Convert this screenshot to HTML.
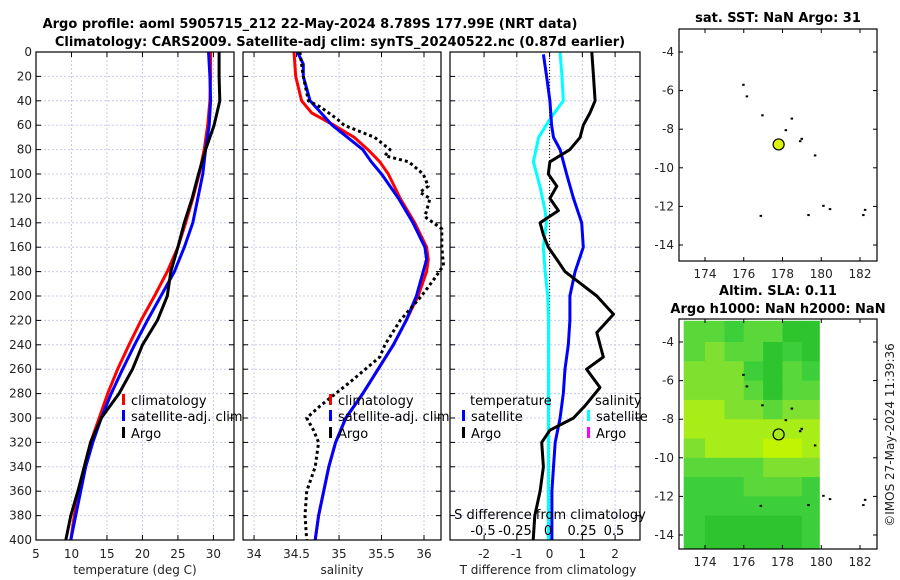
<!DOCTYPE html>
<html><head><meta charset="utf-8"><style>
body{margin:0;background:#fff;}
svg{display:block;font-family:"DejaVu Sans","Liberation Sans",sans-serif;}
.t{font-size:13px;font-weight:bold;fill:#000;}
.tk{font-size:12px;fill:#222;}
.lg{font-size:13px;fill:#000;}
</style></head><body>
<svg id="c" width="900" height="580" viewBox="0 0 900 580">
<rect width="900" height="580" fill="#fff"/>
<text class="t" x="310" y="28" text-anchor="middle">Argo profile: aoml 5905715_212 22-May-2024 8.789S 177.99E (NRT data)</text>
<text class="t" x="340" y="46" text-anchor="middle">Climatology: CARS2009. Satellite-adj clim: synTS_20240522.nc (0.87d earlier)</text>
<text class="t" x="778" y="22" text-anchor="middle">sat. SST: NaN Argo: 31</text>
<text class="t" x="778" y="295" text-anchor="middle">Altim. SLA: 0.11</text>
<text class="t" x="778" y="313" text-anchor="middle">Argo h1000: NaN h2000: NaN</text>
<text class="tk" transform="translate(894,435) rotate(-90)" text-anchor="middle">©IMOS 27-May-2024 11:39:36</text>
<g id="g"></g>
</svg>
<script>
// ---- data ----
const depths=[0,20,40,60,80,100,120,140,160,180,200,220,240,260,280,300,320,340,360,380,400];
const tempArgo=[30.8,30.8,30.9,30.1,28.9,27.9,27.0,25.9,25.0,24.0,23.5,22.1,20.0,18.6,16.7,14.2,12.7,11.8,10.9,9.9,9.2];
const tempClim=[29.6,29.6,29.5,29.2,28.7,28.0,27.1,26.1,25.0,23.5,21.7,19.8,18.1,16.5,15.1,13.9,12.7,11.8,11.1,10.4,9.9];
const tempSat=[29.3,29.5,29.6,29.4,28.9,28.5,27.8,27.1,25.9,24.5,22.6,20.7,18.9,17.2,15.6,14.2,13.0,12.0,11.3,10.6,9.9];
const salClimDepths=[0,20,40,50,60,70,80,90,100,120,140,160,170,180,200,220,240,260,280,300,320,340,360,380,400];
const salClim=[34.47,34.49,34.56,34.68,34.94,35.18,35.34,35.48,35.58,35.72,35.89,36.03,36.05,36.03,35.93,35.79,35.64,35.46,35.28,35.08,34.96,34.88,34.82,34.76,34.72];
const salSatDepths=[0,10,20,40,60,80,90,100,120,140,160,170,180,200,220,240,260,280,300,320,340,360,380,400];
const salSat=[34.51,34.58,34.58,34.66,34.92,35.28,35.38,35.5,35.7,35.87,36.01,36.03,35.99,35.91,35.79,35.64,35.46,35.28,35.08,34.96,34.88,34.82,34.76,34.72];
const salArgoDepths=[0,20,40,45,55,60,70,80,85,90,100,110,115,120,135,145,160,175,185,200,220,240,250,270,290,300,310,320,340,360,380,400];
const salArgo=[34.54,34.58,34.64,34.78,34.98,35.06,35.42,35.6,35.54,35.82,35.99,36.05,35.95,36.07,36.01,36.21,36.21,36.23,36.13,35.97,35.72,35.54,35.48,35.14,34.78,34.62,34.7,34.76,34.72,34.62,34.6,34.62];
const tDiffSatDepths=[2,20,40,60,70,80,100,120,140,160,180,200,220,240,260,280,300,320,340,360,380,400];
const tDiffSat=[-0.19,-0.09,0.01,0.06,0.12,0.32,0.52,0.73,0.98,1.03,0.78,0.62,0.62,0.57,0.47,0.42,0.32,0.17,0.12,0.07,0.07,0.07];
const tDiffArgoDepths=[0,20,40,50,60,70,80,90,100,110,120,130,140,150,160,170,180,200,215,230,250,260,275,290,300,310,320,340,360,380,400];
const tDiffArgo=[1.29,1.34,1.39,1.23,1.03,0.93,0.62,0.01,-0.04,0.22,0.01,0.27,-0.29,-0.19,-0.04,0.22,0.47,1.44,1.95,1.44,1.64,1.13,1.54,1.08,0.73,0.01,-0.24,-0.19,-0.29,-0.45,-0.5];
const sDiffDepths=[0,20,40,55,70,90,110,130,140,160,180,200,220,260,300,400];
const sDiffSat=[0.085,0.1,0.11,0.008,-0.08,-0.12,-0.07,-0.03,-0.02,-0.044,-0.03,-0.01,-0.004,-0.004,-0.005,-0.005];
const sDiffTickLabels=['-0.5','-0.25','0','0.25','0.5'];
const sDiffTickPos=[483,515,548,582,614];
const argoLon=177.8, argoLat=-8.79;
const islandLon=[175.97,176.15,176.95,178.47,178.16,178.98,178.9,179.67,176.87,179.33,180.1,180.44,182.25,182.16];
const islandLat=[-5.7,-6.3,-7.28,-7.45,-8.05,-8.5,-8.62,-9.36,-12.49,-12.45,-11.97,-12.14,-12.18,-12.45];
const slaLonEdges=[172.9,174,175,176,177,178,179,179.9];
const slaLatEdges=[-2.9,-4,-5,-6,-7,-8,-9,-10,-11,-12,-13,-14,-14.8];
const slaVals=[
[2,2,1,2,2,0,0],
[2,3,2,2,0,1,0],
[3,3,3,1,0,2,1],
[3,3,3,2,0,2,2],
[4,4,3,3,2,3,3],
[4,4,4,4,4,4,4],
[3,4,4,4,5,5,4],
[2,2,2,2,3,3,3],
[1,1,1,2,2,2,1],
[1,1,1,1,1,1,1],
[1,0,0,0,0,0,1],
[1,0,0,0,0,0,1]];
const slaColors={"0":"#2ec42e","1":"#3ccf3a","2":"#5ad83a","3":"#80e030","4":"#a8ec18","5":"#c0f400"};
const tTicks=[5,10,15,20,25,30], sTicks=[34,34.5,35,35.5,36], dTicks=[-2,-1,0,1,2];
const depthTicks=[0,20,40,60,80,100,120,140,160,180,200,220,240,260,280,300,320,340,360,380,400];
const lonTicks=[174,176,178,180,182], latTicks=[-4,-6,-8,-10,-12,-14];
// ---- helpers ----
const NS="http://www.w3.org/2000/svg", G=document.getElementById('g');
function mk(tag,at,par){const e=document.createElementNS(NS,tag);for(const k in at)e.setAttribute(k,at[k]);(par||G).appendChild(e);return e;}
function lin(d0,d1,r0,r1){return v=>r0+(v-d0)/(d1-d0)*(r1-r0);}
const Y=lin(0,400,52,540);
function panel(x0,x1,y0,y1,name){
  const r=mk('rect',{x:x0,y:y0,width:x1-x0,height:y1-y0,fill:'none',stroke:'#000','stroke-width':1.2});
  
  
}
function grid(X,ticks,x0,x1,showY,labelY){
  ticks.forEach(t=>{const x=X(t);
    const l=mk('line',{x1:x,x2:x,y1:52,y2:540,stroke:'#c8cce8','stroke-dasharray':'2,2','stroke-width':1});
    
    mk('line',{x1:x,x2:x,y1:540,y2:535,stroke:'#000'});mk('line',{x1:x,x2:x,y1:52,y2:57,stroke:'#000'});
    if(labelY){const tx=mk('text',{x:x,y:labelY,'text-anchor':'middle',class:'tk'});tx.textContent=t;
      }
  });
  depthTicks.forEach(d=>{const y=Y(d);
    const l=mk('line',{x1:x0,x2:x1,y1:y,y2:y,stroke:'#c8cce8','stroke-dasharray':'2,2','stroke-width':1});
    
    mk('line',{x1:x0,x2:x0+5,y1:y,y2:y,stroke:'#000'});mk('line',{x1:x1,x2:x1-5,y1:y,y2:y,stroke:'#000'});
    if(showY){const tx=mk('text',{x:x0-4,y:y+4,'text-anchor':'end',class:'tk'});tx.textContent=d;
      }
  });
}
function line(X,vals,deps,color,name,dash){
  const pts=vals.map((v,i)=>X(v).toFixed(1)+','+Y(deps[i]).toFixed(1)).join(' ');
  const p=mk('polyline',{points:pts,fill:'none',stroke:color,'stroke-width':3,'stroke-linejoin':'round'});
  if(dash)p.setAttribute('stroke-dasharray',dash);
  
  
}
function label(x,y,txt,name,cls,anchor){const t=mk('text',{x:x,y:y,class:cls||'lg','text-anchor':anchor||'start'});t.textContent=txt;
  return t;}
function legItem(x,y,color,txt,name){mk('rect',{x:x,y:y-11,width:3,height:11,fill:color});label(x+9,y,txt,name);}
// ---- panel 1 temperature ----
const XT=lin(5,32.9,36,234);
grid(XT,tTicks,36,234,true,558);
line(XT,tempClim,depths,'#f00','temp-clim-line');
line(XT,tempSat,depths,'#00f','temp-sat-line');
line(XT,tempArgo,depths,'#000','temp-argo-line');
panel(36,234,52,540,'temperature-panel');
label(135,574,'temperature (deg C)','temperature-x-title','tk','middle');
legItem(122,405,'#f00','climatology','legend-climatology');
legItem(122,421,'#00f','satellite-adj. clim','legend-satellite-adj');
legItem(122,438,'#000','Argo','legend-argo');
// ---- panel 2 salinity ----
const XS=lin(33.87,36.2,243,441);
grid(XS,sTicks,243,441,false,558);
line(XS,salClim,salClimDepths,'#f00','sal-clim-line');
line(XS,salSat,salSatDepths,'#00f','sal-sat-line');
line(XS,salArgo,salArgoDepths,'#000','sal-argo-line','3,3');
panel(243,441,52,540,'salinity-panel');
label(342,574,'salinity','salinity-x-title','tk','middle');
legItem(329,405,'#f00','climatology','legend-climatology-2');
legItem(329,421,'#00f','satellite-adj. clim','legend-satellite-adj-2');
legItem(329,438,'#000','Argo','legend-argo-2');
// ---- panel 3 differences ----
const XD=lin(-3.04,2.76,450,640);
const XSD=lin(0,0.5,549,614);
grid(XD,dTicks,450,640,false,558);
mk('line',{x1:XD(0),x2:XD(0),y1:52,y2:540,stroke:'#000','stroke-dasharray':'1,2'});
line(XSD,sDiffSat,sDiffDepths,'#0ff','sdiff-sat-line');
line(XD,tDiffSat,tDiffSatDepths,'#00f','tdiff-sat-line');
line(XD,tDiffArgo,tDiffArgoDepths,'#000','tdiff-argo-line');
panel(450,640,52,540,'difference-panel');
label(470,405,'temperature','legend-temperature-head');
legItem(462,421,'#00f','satellite','legend-t-satellite');
legItem(462,438,'#000','Argo','legend-t-argo');
label(595,405,'salinity','legend-salinity-head');
legItem(587,421,'#0ff','satellite','legend-s-satellite');
legItem(587,438,'#f0f','Argo','legend-s-argo');
label(550,519,'S difference from climatology','s-diff-axis-title','lg','middle');
sDiffTickLabels.forEach((s,i)=>{label(sDiffTickPos[i],535,s,'s-diff-tick-label','lg','middle');});
label(548,574,'T difference from climatology','t-diff-x-title','tk','middle');
// ---- maps ----
function map(y0,y1,latTop,name,heat){
  const LX=lin(174,182,705,860), LY=lin(-4,-14,latTop,latTop+193);
  if(heat){
    for(let r=0;r<slaVals.length;r++)for(let c=0;c<slaVals[r].length;c++){
      const x0=Math.max(LX(slaLonEdges[c]),681), x1=LX(slaLonEdges[c+1]);
      const ya=Math.max(LY(slaLatEdges[r]),y0+1), yb=Math.min(LY(slaLatEdges[r+1]),y1-1);
      const cell=mk('rect',{x:x0,y:ya,width:x1-x0+0.5,height:yb-ya+0.5,fill:slaColors[slaVals[r][c]]});
      
      
    }
  }
  const r=mk('rect',{x:679,y:y0,width:198,height:y1-y0,fill:'none',stroke:'#000','stroke-width':1.2});
  
  lonTicks.forEach(t=>{const x=LX(t);mk('line',{x1:x,x2:x,y1:y1,y2:y1-4,stroke:'#000'});mk('line',{x1:x,x2:x,y1:y0,y2:y0+4,stroke:'#000'});
    label(x,y1+17,t,'lon-tick-label','tk','middle');});
  latTicks.forEach(t=>{const y=LY(t);mk('line',{x1:679,x2:683,y1:y,y2:y,stroke:'#000'});mk('line',{x1:877,x2:873,y1:y,y2:y,stroke:'#000'});
    label(674,y+4,t,'lat-tick-label','tk','end');});
  islandLon.forEach((lo,i)=>{const d=mk('rect',{x:LX(lo)-1,y:LY(islandLat[i])-1,width:2.5,height:2,fill:'#000'});
    });
  const a=mk('circle',{cx:LX(argoLon),cy:LY(argoLat),r:5.5,fill:heat?'none':'#dff20a',stroke:'#000','stroke-width':1.2});
  
}
map(29,261,52,'sst-map',false);
map(319,549,342,'sla-map',true);
</script>
</body></html>
